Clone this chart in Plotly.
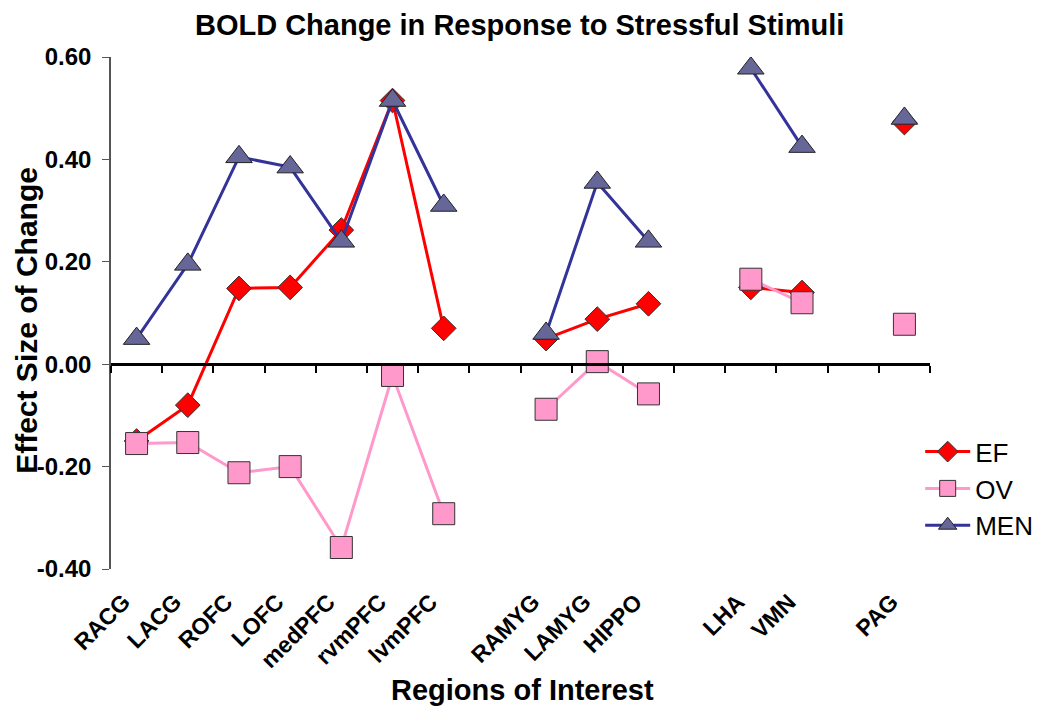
import plotly.graph_objects as go

regions = ["RACG", "LACG", "ROFC", "LOFC", "medPFC", "rvmPFC", "lvmPFC", "",
           "RAMYG", "LAMYG", "HIPPO", "", "LHA", "VMN", "", "PAG"]
ef = [-0.150, -0.080, 0.148, 0.150, 0.262, 0.515, 0.070, None,
      0.050, 0.088, 0.118, None, 0.150, 0.140, None, 0.472]
ov = [-0.155, -0.153, -0.212, -0.200, -0.358, -0.022, -0.292, None,
      -0.088, 0.005, -0.058, None, 0.166, 0.120, None, 0.078]
men = [0.050, 0.195, 0.405, 0.385, 0.240, 0.515, 0.310, None,
       0.060, 0.355, 0.240, None, 0.578, 0.425, None, 0.480]
y_ticks = [-0.4, -0.2, 0.0, 0.2, 0.4, 0.6]

xs = list(range(len(regions)))
FONT = "Liberation Sans, Arial, sans-serif"

fig = go.Figure()
fig.add_trace(go.Scatter(x=xs, y=ef, name="EF", mode="lines+markers",
                         line=dict(color="#FF0000", width=3),
                         marker=dict(symbol="diamond", size=19, color="#FF0000",
                                     line=dict(color="#333333", width=1)),
                         connectgaps=False))
fig.add_trace(go.Scatter(x=xs, y=ov, name="OV", mode="lines+markers",
                         line=dict(color="#FF99CC", width=3),
                         marker=dict(symbol="square", size=22, color="#FF99CC",
                                     line=dict(color="#333333", width=1)),
                         connectgaps=False))
fig.add_trace(go.Scatter(x=xs, y=men, name="MEN", mode="lines+markers",
                         line=dict(color="#333399", width=3),
                         marker=dict(symbol="triangle-up", size=23, color="#666699",
                                     line=dict(color="#222222", width=1)),
                         connectgaps=False))
# dummy trace to host the zero-line axis
fig.add_trace(go.Scatter(x=[None], y=[None], xaxis="x2", showlegend=False,
                         hoverinfo="skip"))

n = len(regions)
fig.update_layout(
    width=1042, height=705,
    paper_bgcolor="white", plot_bgcolor="white",
    margin=dict(l=103, r=117, t=49, b=144),
    font=dict(family=FONT, color="black"),
    title=dict(text="<b>BOLD Change in Response to Stressful Stimuli</b>",
               x=0.491, xanchor="center", y=0.976, yanchor="middle",
               font=dict(size=29, family=FONT, color="black")),
    xaxis=dict(range=[-0.5, n - 0.5], tickmode="array", tickvals=xs,
               ticktext=["<b>%s</b>" % r for r in regions],
               tickangle=-45, tickfont=dict(size=23, family=FONT),
               ticklabelstandoff=14, ticklabelshift=-13,
               showline=False, ticks="", showgrid=False, zeroline=False),
    xaxis2=dict(range=[-0.5, n - 0.5], overlaying="x", anchor="free",
                position=0.4, tickmode="array",
                tickvals=[i - 0.5 for i in range(n + 1)],
                showticklabels=False, ticks="outside", ticklen=7,
                tickwidth=2, tickcolor="black",
                showline=True, linecolor="black", linewidth=2.5,
                showgrid=False, zeroline=False),
    yaxis=dict(range=[-0.4, 0.6], tickmode="array", tickvals=y_ticks,
               ticktext=["<b>%.2f</b>" % v for v in y_ticks],
               tickfont=dict(size=24, family=FONT), ticklabelstandoff=6,
               showline=True, linecolor="#555555", linewidth=1.5,
               ticks="outside", ticklen=7, tickcolor="#555555",
               showgrid=False, zeroline=False),
    legend=dict(x=0.988, y=0.275, xanchor="left", yanchor="top",
                font=dict(size=26, family=FONT), bgcolor="rgba(0,0,0,0)",
                itemwidth=45, itemsizing="trace"),
    showlegend=True,
    annotations=[
        dict(text="<b>Regions of Interest</b>", xref="paper", yref="paper",
             x=0.502, y=-0.236, xanchor="center", yanchor="middle",
             showarrow=False, font=dict(size=29, family=FONT)),
        dict(text="<b>Effect Size of Change</b>", xref="paper", yref="paper",
             x=-0.103, y=0.486, xanchor="center", yanchor="middle",
             textangle=-90, showarrow=False, font=dict(size=30, family=FONT)),
    ],
)

fig.write_html("out.html")
